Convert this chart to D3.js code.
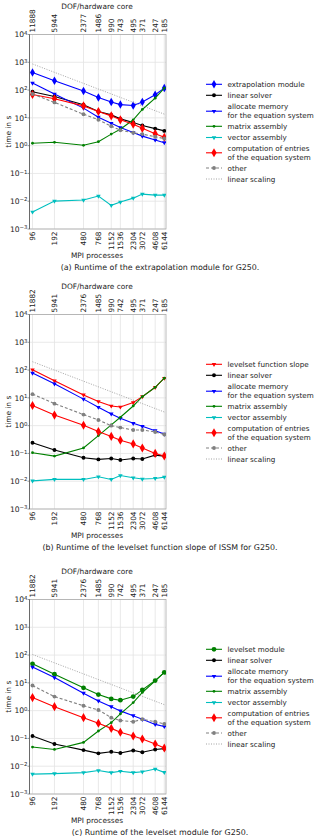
<!DOCTYPE html>
<html>
<head>
<meta charset="utf-8">
<script src="https://cdn.jsdelivr.net/npm/d3@7"></script>
<style>
  body { margin: 0; background: #fff; }
  svg { display: block; font-family: "DejaVu Sans", sans-serif; }
</style>
</head>
<body>
<svg id="chart" width="320" height="839"></svg>
<script>
// shared axes
const procs = [96, 192, 480, 768, 1152, 1536, 2304, 3072, 4608, 6144];
const dofA = ["11888", "5944", "2377", "1486", "990", "743", "495", "371", "247", "185"];
const dofBC = ["11882", "5941", "2376", "1485", "990", "742", "495", "371", "247", "185"];
const yTickExp = [4, 3, 2, 1, 0, -1, -2, -3];
const linearProcs = [96, 6144];

// (a) extrapolation module
const a_module = [431, 217, 92, 54, 37, 30, 28, 37, 68, 118];
const a_solver = [87, 59, 29.5, 16.9, 12.8, 9.2, 6.8, 5.3, 4.1, 3.4];
const a_alloc = [178, 72, 22.4, 10.6, 6.4, 4.5, 2.95, 2.2, 1.6, 1.28];
const a_matrix = [1.22, 1.32, 1.03, 1.39, 2.6, 3.9, 8.5, 20, 51, 118];
const a_vector = [0.0041, 0.0101, 0.011, 0.0153, 0.0071, 0.0093, 0.0129, 0.018, 0.0166, 0.0165];
const a_entries = [69, 48.5, 27, 17, 11.8, 8.5, 5.9, 4.2, 2.7, 2.0];
const a_other = [72, 36, 13.5, 8.5, 5.0, 3.6, 2.9, 2.6, 2.1, 1.8];
const a_linear = [870, 13.6];

// (b) levelset function slope
const b_module = [103, 41, 12.8, 7.4, 5.1, 4.7, 6.8, 11.1, 24, 51];
const b_solver = [0.243, 0.133, 0.070, 0.061, 0.066, 0.058, 0.066, 0.063, 0.087, 0.08];
const b_alloc = [78, 32, 9, 4.6, 2.64, 1.85, 1.22, 0.95, 0.66, 0.5];
const b_matrix = [0.106, 0.080, 0.157, 0.44, 1.06, 2.0, 5.1, 11, 24, 51];
const b_vector = [0.0103, 0.0116, 0.0116, 0.0145, 0.0116, 0.016, 0.0133, 0.012, 0.0126, 0.014];
const b_entries = [5.3, 2.4, 1.03, 0.61, 0.41, 0.30, 0.22, 0.157, 0.10, 0.081];
const b_other = [13.6, 6.2, 2.5, 1.6, 1.0, 0.85, 0.7, 0.7, 0.59, 0.48];
const b_linear = [200, 3.1];

// (c) levelset module
const c_module = [48.5, 20.6, 6.6, 3.8, 2.65, 2.37, 3.2, 5.6, 12.1, 24];
const c_solver = [0.122, 0.063, 0.038, 0.029, 0.033, 0.030, 0.037, 0.032, 0.040, 0.043];
const c_alloc = [37, 15.5, 4.25, 2.24, 1.39, 0.98, 0.66, 0.49, 0.32, 0.27];
const c_matrix = [0.049, 0.040, 0.072, 0.185, 0.37, 0.76, 1.95, 4.5, 11.8, 24];
const c_vector = [0.0052, 0.0054, 0.0059, 0.0070, 0.0059, 0.0066, 0.0059, 0.0063, 0.0079, 0.006];
const c_entries = [2.95, 1.39, 0.56, 0.35, 0.23, 0.166, 0.122, 0.095, 0.063, 0.045];
const c_other = [8, 3.2, 1.5, 1.06, 0.56, 0.44, 0.40, 0.49, 0.40, 0.33];
const c_linear = [105, 1.64];

const panels = [
  {off: 0, dof: dofA, first: {label: ["extrapolation module"], color: "#0000ff", marker: "diamond", values: a_module},
   solver: a_solver, alloc: a_alloc, matrix: a_matrix, vector: a_vector, entries: a_entries, other: a_other, linear: a_linear,
   caption: "(a) Runtime of the extrapolation module for G250."},
  {off: 280, dof: dofBC, first: {label: ["levelset function slope"], color: "#ff0000", marker: "tri", values: b_module},
   solver: b_solver, alloc: b_alloc, matrix: b_matrix, vector: b_vector, entries: b_entries, other: b_other, linear: b_linear,
   caption: "(b) Runtime of the levelset function slope of ISSM for G250."},
  {off: 565, dof: dofBC, first: {label: ["levelset module"], color: "#008000", marker: "circleBig", values: c_module},
   solver: c_solver, alloc: c_alloc, matrix: c_matrix, vector: c_vector, entries: c_entries, other: c_other, linear: c_linear,
   caption: "(c) Runtime of the levelset module for G250."}
];

const svg = d3.select("#chart");
const left = 29.5, right = 166;
const x = d3.scaleLog().domain([96, 6144]).range([32.5, 164.3]);

const markerPath = {
  diamond: d3.symbol(d3.symbolDiamond, 21)(),
  diamondBig: d3.symbol(d3.symbolDiamond, 24)(),
  circle: d3.symbol(d3.symbolCircle, 12)(),
  circleBig: d3.symbol(d3.symbolCircle, 18)(),
  small: d3.symbol(d3.symbolCircle, 6)(),
  tri: d3.symbol(d3.symbolTriangle, 9)()
};

panels.forEach(p => {
  const top = 34.5 + p.off, bottom = 229 + p.off;
  const y = d3.scaleLog().domain([1e-3, 1e4]).range([bottom, top]);
  const g = svg.append("g");

  // grid
  g.append("g").selectAll("line").data(procs).join("line")
    .attr("x1", d => x(d)).attr("x2", d => x(d)).attr("y1", top).attr("y2", bottom)
    .attr("stroke", "#e3e3e3").attr("stroke-width", 0.8);
  g.append("g").selectAll("line").data(yTickExp).join("line")
    .attr("x1", left).attr("x2", right).attr("y1", d => y(Math.pow(10, d))).attr("y2", d => y(Math.pow(10, d)))
    .attr("stroke", "#e3e3e3").attr("stroke-width", 0.8);

  // frame
  g.append("rect").attr("x", left).attr("y", top).attr("width", right - left).attr("height", bottom - top)
    .attr("fill", "none").attr("stroke", "#aaa").attr("stroke-width", 0.8);
  g.append("line").attr("x1", left).attr("x2", left).attr("y1", top).attr("y2", bottom)
    .attr("stroke", "#555").attr("stroke-width", 0.8);

  // y ticks
  const yt = g.append("g").style("font-size", "7.6px").attr("fill", "#222");
  yTickExp.forEach(e => {
    const yy = y(Math.pow(10, e));
    yt.append("line").attr("x1", left - 2).attr("x2", left).attr("y1", yy).attr("y2", yy).attr("stroke", "#555").attr("stroke-width", 0.6);
    const t = yt.append("text").attr("x", 27.5).attr("y", yy).attr("dy", "0.35em").attr("text-anchor", "end");
    t.append("tspan").text("10");
    t.append("tspan").attr("dy", "-0.45em").style("font-size", "5.4px").text(e < 0 ? "\u2212" + (-e) : String(e));
  });
  g.append("text").attr("transform", `translate(8,${(top + bottom) / 2}) rotate(-90)`)
    .attr("text-anchor", "middle").attr("dy", "0.35em").style("font-size", "7.4px").attr("fill", "#222").text("time in s");

  // bottom ticks (MPI processes)
  g.append("g").selectAll("text").data(procs).join("text")
    .attr("transform", d => `translate(${x(d)},${bottom + 2.5}) rotate(-90)`)
    .attr("text-anchor", "end").attr("dy", "0.35em").style("font-size", "7.3px").attr("fill", "#222")
    .text(d => d);
  g.append("text").attr("x", 97).attr("y", bottom + 26).attr("text-anchor", "middle").attr("dy", "0.35em")
    .style("font-size", "7.4px").attr("fill", "#222").text("MPI processes");

  // top ticks (DOF/hardware core)
  g.append("g").selectAll("text").data(procs).join("text")
    .attr("transform", (d, i) => `translate(${x(d)},${top - 2}) rotate(-90)`)
    .attr("text-anchor", "start").attr("dy", "0.35em").style("font-size", "7.3px").attr("fill", "#222")
    .text((d, i) => p.dof[i]);
  g.append("text").attr("x", 97).attr("y", top - 28.5).attr("text-anchor", "middle").attr("dy", "0.35em")
    .style("font-size", "7.4px").attr("fill", "#222").text("DOF/hardware core");

  // caption
  g.append("text").attr("x", 160).attr("y", bottom + 38).attr("text-anchor", "middle").attr("dy", "0.35em")
    .style("font-size", "7.9px").attr("fill", "#222").text(p.caption);

  const series = [
    {label: p.first.label, color: p.first.color, marker: p.first.marker, values: p.first.values},
    {label: ["linear solver"], color: "#000", marker: "circle", values: p.solver},
    {label: ["allocate memory", "for the equation system"], color: "#0000ff", marker: "tri", values: p.alloc},
    {label: ["matrix assembly"], color: "#008000", marker: "small", values: p.matrix},
    {label: ["vector assembly"], color: "#00bfbf", marker: "tri", values: p.vector},
    {label: ["computation of entries", "of the equation system"], color: "#ff0000", marker: "diamondBig", values: p.entries},
    {label: ["other"], color: "#808080", marker: "circle", dash: "3,2", values: p.other}
  ];

  const line = d3.line().x(d => x(d[0])).y(d => y(d[1]));
  const clip = "clip" + p.off;
  svg.append("clipPath").attr("id", clip).append("rect")
    .attr("x", left).attr("y", top).attr("width", right - left).attr("height", bottom - top);
  const plot = g.append("g").attr("clip-path", `url(#${clip})`);

  series.forEach(s => {
    const pts = procs.map((d, i) => [d, s.values[i]]);
    plot.append("path").attr("d", line(pts)).attr("fill", "none")
      .attr("stroke", s.color).attr("stroke-width", 1.1).attr("stroke-dasharray", s.dash || null);
    plot.append("g").selectAll("path").data(pts).join("path")
      .attr("transform", d => `translate(${x(d[0])},${y(d[1])})` + (s.marker === "tri" ? " rotate(180)" : ""))
      .attr("d", markerPath[s.marker]).attr("fill", s.color);
  });
  plot.append("path").attr("d", line(linearProcs.map((d, i) => [d, p.linear[i]])))
    .attr("fill", "none").attr("stroke", "#999").attr("stroke-width", 0.9).attr("stroke-dasharray", "1,1.5");

  // legend
  const legendRows = [84.3, 95.3, 111.2, 126.3, 137.5, 152.8, 168, 179];
  const lg = g.append("g").style("font-size", "7.2px").attr("fill", "#222");
  series.concat([{label: ["linear scaling"], color: "#999", dotted: true}]).forEach((s, i) => {
    const ly = legendRows[i] + p.off;
    lg.append("line").attr("x1", 206).attr("x2", 222).attr("y1", ly).attr("y2", ly)
      .attr("stroke", s.color).attr("stroke-width", s.dotted ? 0.9 : 1.1)
      .attr("stroke-dasharray", s.dotted ? "1,1.5" : (s.dash || null));
    if (s.marker) {
      lg.append("path").attr("transform", `translate(214,${ly})` + (s.marker === "tri" ? " rotate(180)" : ""))
        .attr("d", markerPath[s.marker]).attr("fill", s.color);
    }
    const n = s.label.length;
    s.label.forEach((t, k) => {
      lg.append("text").attr("x", 227.5).attr("y", ly + (k - (n - 1) / 2) * 8.6).attr("dy", "0.35em").text(t);
    });
  });
});
</script>
</body>
</html>
